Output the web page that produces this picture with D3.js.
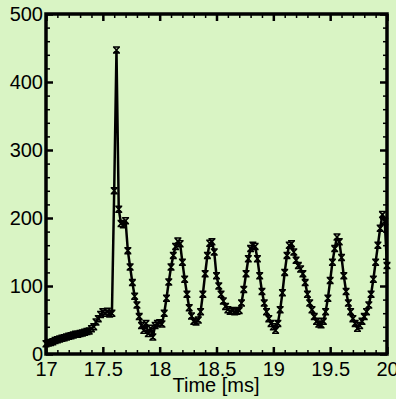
<!DOCTYPE html>
<head>
    <meta charset="utf-8">
    <title>Signal vs time</title>
    <style>
        body { margin: 0; background: #d9f4c4; }
        text { font-family: "Liberation Sans", Arial, sans-serif; fill: #000; }
        .axis text { font-size: 20px; }
        .axis path.domain { display: none; }
        .axis line { stroke: #000; }
        text#x_axis_label { font-size: 20px; }
    </style>
    <script src="https://cdn.jsdelivr.net/npm/d3@7"></script>
</head>
<body>
    <script>
        // sampled every 0.02 ms from 17.00 to 20.00
        var tStart = 17, tStep = 0.02;
        var values = [
            15, 16, 17, 18, 20, 21, 22, 23, 24, 25,
            26, 27, 28, 29, 29, 30, 31, 32, 33, 34,
            37, 40, 47, 52, 58, 62, 60, 63, 59, 60,
            240, 447, 213, 192, 190, 196, 152, 128, 105, 85,
            72, 55, 42, 35, 45, 30, 38, 25, 42, 45,
            46, 44, 60, 82, 106, 128, 145, 158, 166, 162,
            135, 110, 88, 68, 56, 48, 47, 50, 62, 88,
            118, 145, 163, 165, 150, 115, 100, 88, 78, 70,
            65, 63, 64, 62, 63, 64, 75, 95, 118, 140,
            155, 160, 158, 140, 115, 92, 75, 62, 52, 45,
            40, 35, 45, 65, 90, 120, 145, 160, 162, 150,
            138, 130, 125, 118, 105, 88, 75, 65, 55, 48,
            44, 43, 48, 62, 82, 108, 135, 155, 172, 165,
            142, 115, 92, 75, 62, 52, 45, 38, 42, 48,
            55, 62, 72, 88, 110, 135, 160, 185, 205, 195,
            130
        ];
        var xMajor = [17, 17.5, 18, 18.5, 19, 19.5, 20];
        var xMinor = [17.1, 17.2, 17.3, 17.4, 17.6, 17.7, 17.8, 17.9, 18.1, 18.2, 18.3, 18.4,
                      18.6, 18.7, 18.8, 18.9, 19.1, 19.2, 19.3, 19.4, 19.6, 19.7, 19.8, 19.9];
        var yMajor = [0, 100, 200, 300, 400, 500];
        var yMinor = [20, 40, 60, 80, 120, 140, 160, 180, 220, 240, 260, 280,
                      320, 340, 360, 380, 420, 440, 460, 480];

        var data = values.map(function (v, i) { return { t: tStart + i * tStep, v: v }; });

        var margin = { top: 14, right: 9, bottom: 45, left: 46 },
            width = 396 - margin.left - margin.right,
            height = 399 - margin.top - margin.bottom;

        var x = d3.scaleLinear().domain([17, 20]).range([0, width]);
        var y = d3.scaleLinear().domain([0, 500]).range([height, 0]);

        var svg = d3.select("body").append("svg")
            .attr("width", 396)
            .attr("height", 399);

        var plot = svg.append("g")
            .attr("transform", "translate(" + margin.left + "," + margin.top + ")");

        var fmt = function (d) { return d; };

        // bottom
        plot.append("g").attr("class", "axis").attr("transform", "translate(0," + height + ")")
            .call(d3.axisBottom(x).tickValues(xMajor).tickFormat(fmt).tickSize(-7).tickPadding(8))
            .selectAll("line").attr("stroke-width", 2.5);
        plot.append("g").attr("class", "axis").attr("transform", "translate(0," + height + ")")
            .call(d3.axisBottom(x).tickValues(xMinor).tickFormat("").tickSize(-4))
            .selectAll("line").attr("stroke-width", 1.5);
        // top
        plot.append("g").attr("class", "axis")
            .call(d3.axisTop(x).tickValues(xMajor).tickFormat("").tickSize(-7))
            .selectAll("line").attr("stroke-width", 2.5);
        plot.append("g").attr("class", "axis")
            .call(d3.axisTop(x).tickValues(xMinor).tickFormat("").tickSize(-4))
            .selectAll("line").attr("stroke-width", 1.5);
        // left
        plot.append("g").attr("class", "axis")
            .call(d3.axisLeft(y).tickValues(yMajor).tickFormat(fmt).tickSize(-7).tickPadding(3))
            .selectAll("line").attr("stroke-width", 2.5);
        plot.append("g").attr("class", "axis")
            .call(d3.axisLeft(y).tickValues(yMinor).tickFormat("").tickSize(-4))
            .selectAll("line").attr("stroke-width", 1.5);
        // right
        plot.append("g").attr("class", "axis").attr("transform", "translate(" + width + ",0)")
            .call(d3.axisRight(y).tickValues(yMajor).tickFormat("").tickSize(-7))
            .selectAll("line").attr("stroke-width", 2.5);
        plot.append("g").attr("class", "axis").attr("transform", "translate(" + width + ",0)")
            .call(d3.axisRight(y).tickValues(yMinor).tickFormat("").tickSize(-4))
            .selectAll("line").attr("stroke-width", 1.5);

        var line = d3.line()
            .x(function (d) { return x(d.t); })
            .y(function (d) { return y(d.v); });

        plot.append("path")
            .datum(data)
            .attr("fill", "none")
            .attr("stroke", "#000")
            .attr("stroke-width", 2.5)
            .attr("stroke-linejoin", "round")
            .attr("d", line);

        plot.append("g").selectAll("path")
            .data(data)
            .enter()
            .append("path")
            .attr("transform", function (d) { return "translate(" + x(d.t) + "," + y(d.v) + ")"; })
            .attr("d", "M-3,-3L3,3M-3,3L3,-3M-3.5,-3H3.5M-3.5,3H3.5")
            .attr("fill", "none")
            .attr("stroke", "#000")
            .attr("stroke-width", 1.5);

        plot.append("rect")
            .attr("width", width)
            .attr("height", height)
            .attr("fill", "none")
            .attr("stroke", "#000")
            .attr("stroke-width", 3.5);

        svg.append("text")
            .attr("id", "x_axis_label")
            .attr("x", 216)
            .attr("y", 392)
            .attr("text-anchor", "middle")
            .text("Time [ms]");
    </script>
</body>
